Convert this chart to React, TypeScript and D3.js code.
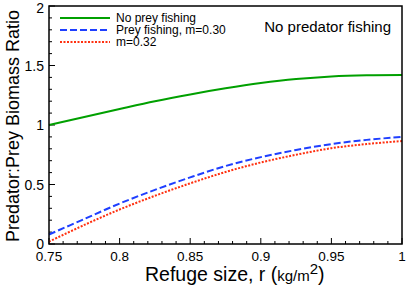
import React, { useEffect, useRef } from 'react';
import * as d3 from 'd3';

const refuge = [0.75, 0.775, 0.8, 0.825, 0.85, 0.875, 0.9, 0.925, 0.95, 0.975, 1];
const noPreyFishing = [1.0, 1.068, 1.135, 1.2, 1.257, 1.308, 1.352, 1.386, 1.408, 1.418, 1.42];
const preyFishing030 = [0.08, 0.21, 0.34, 0.455, 0.56, 0.655, 0.73, 0.79, 0.84, 0.875, 0.9];
const preyFishing032 = [0.02, 0.16, 0.29, 0.405, 0.51, 0.605, 0.685, 0.75, 0.805, 0.84, 0.865];
const xTicks = [0.75, 0.8, 0.85, 0.9, 0.95, 1];
const yTicks = [0, 0.5, 1, 1.5, 2];

const series = [
  { name: 'No prey fishing', values: noPreyFishing, color: '#00a000', dash: '' },
  { name: 'Prey fishing, m=0.30', values: preyFishing030, color: '#1f3fff', dash: '7,3' },
  { name: 'm=0.32', values: preyFishing032, color: '#ff3010', dash: '2,1.5' },
];

const App: React.FC = () => {
  const svgRef = useRef<SVGSVGElement | null>(null);

  useEffect(() => {
    if (!svgRef.current) return;
    const svg = d3.select(svgRef.current);
    svg.selectAll('*').remove();

    const margin = { top: 6, right: 13, bottom: 49, left: 49 };
    const width = 415;
    const height = 293;
    const font = 'Liberation Sans, Arial, Helvetica, sans-serif';

    const x = d3.scaleLinear().domain([0.75, 1]).range([margin.left, width - margin.right]);
    const y = d3.scaleLinear().domain([0, 2]).range([height - margin.bottom, margin.top]);

    // minor ticks
    const g = svg.append('g');
    d3.range(0.75, 1.0001, 0.01).forEach(v => {
      const major = xTicks.some(t => Math.abs(t - v) < 1e-6);
      g.append('line')
        .attr('x1', x(v)).attr('x2', x(v))
        .attr('y1', y(0)).attr('y2', y(0) - (major ? 6 : 3))
        .attr('stroke', '#000').attr('stroke-width', 1);
    });
    d3.range(0, 2.0001, 0.1).forEach(v => {
      const major = yTicks.some(t => Math.abs(t - v) < 1e-6);
      g.append('line')
        .attr('x1', x(0.75)).attr('x2', x(0.75) + (major ? 6 : 3))
        .attr('y1', y(v)).attr('y2', y(v))
        .attr('stroke', '#000').attr('stroke-width', 1);
    });

    // tick labels
    svg.append('g').selectAll('text').data(xTicks).join('text')
      .attr('x', d => x(d)).attr('y', height - margin.bottom + 17)
      .attr('text-anchor', 'middle')
      .attr('font-family', font).attr('font-size', 13.5)
      .text(d => String(d));
    svg.append('g').selectAll('text').data(yTicks).join('text')
      .attr('x', margin.left - 5).attr('y', d => Math.max(y(d) + 5, 13))
      .attr('text-anchor', 'end')
      .attr('font-family', font).attr('font-size', 14)
      .text(d => String(d));

    const line = d3.line<number>()
      .x((_, i) => x(refuge[i]))
      .y(d => y(d))
      .curve(d3.curveCatmullRom);

    series.forEach(s => {
      svg.append('path')
        .attr('d', line(s.values))
        .attr('fill', 'none')
        .attr('stroke', s.color)
        .attr('stroke-width', 2)
        .attr('stroke-dasharray', s.dash || null);
    });

    // frame
    svg.append('rect')
      .attr('x', margin.left).attr('y', margin.top)
      .attr('width', width - margin.left - margin.right)
      .attr('height', height - margin.top - margin.bottom)
      .attr('fill', 'none').attr('stroke', '#000').attr('stroke-width', 1.5);

    // legend
    series.forEach((s, i) => {
      const ly = 18 + i * 12;
      svg.append('line')
        .attr('x1', 60).attr('x2', 110).attr('y1', ly).attr('y2', ly)
        .attr('stroke', s.color).attr('stroke-width', 2)
        .attr('stroke-dasharray', s.dash || null);
      svg.append('text')
        .attr('x', 116).attr('y', ly + 4)
        .attr('font-family', font).attr('font-size', 12)
        .text(s.name);
    });

    svg.append('text')
      .attr('x', 391).attr('y', 32)
      .attr('text-anchor', 'end')
      .attr('font-family', font).attr('font-size', 15)
      .text('No predator fishing');

    // axis titles
    const xt = svg.append('text')
      .attr('x', 145).attr('y', 281)
      .attr('font-family', font).attr('font-size', 19.5);
    xt.append('tspan').text('Refuge size, r (');
    xt.append('tspan').attr('font-size', 15).text('kg/m');
    xt.append('tspan').attr('font-size', 15).attr('dy', -7).text('2');
    xt.append('tspan').attr('dy', 7).text(')');

    svg.append('text')
      .attr('transform', `translate(19,${(margin.top + height - margin.bottom) / 2 + 1}) rotate(-90)`)
      .attr('text-anchor', 'middle')
      .attr('font-family', font).attr('font-size', 18)
      .text('Predator:Prey Biomass Ratio');
  }, []);

  return (
    <svg ref={svgRef} width={415} height={293} style={{ position: 'absolute', left: 0, top: 0, background: '#fff' }} />
  );
};

export default App;
